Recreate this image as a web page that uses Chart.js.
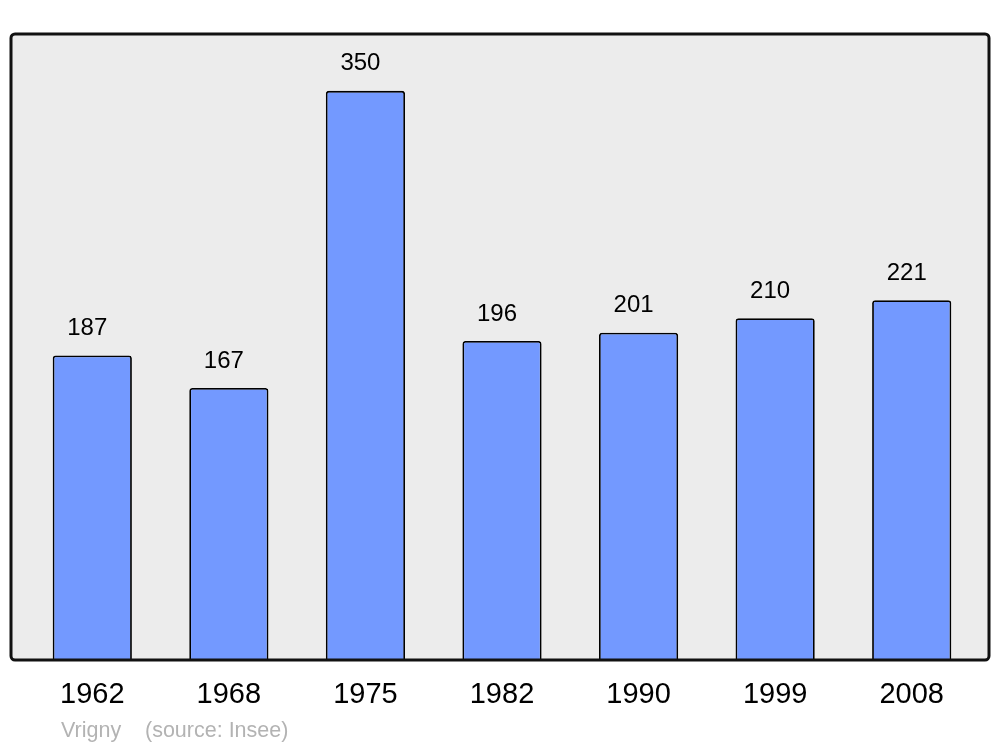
<!DOCTYPE html>
<html>
<head>
<meta charset="utf-8">
<title>Vrigny population</title>
<script src="https://cdn.jsdelivr.net/npm/chart.js@4/dist/chart.umd.min.js"></script>
<style>
    body { margin: 0; background: #ffffff; }
    canvas { display: block; }
</style>
</head>
<body>
<canvas id="popChart" width="1000" height="747"></canvas>
<script>
// Population of Vrigny by census year
const years = ['1962', '1968', '1975', '1982', '1990', '1999', '2008'];
const population = [187, 167, 350, 196, 201, 210, 221];
const footerName = 'Vrigny';
const footerSource = '(source: Insee)';

// Grey panel with dark rounded frame behind the bars
const framePlugin = {
    id: 'frame',
    beforeDatasetsDraw(chart) {
        const c = chart.ctx;
        c.save();
        c.beginPath();
        c.roundRect(11, 34, 978, 626, 4);
        c.fillStyle = '#ececec';
        c.fill();
        c.restore();
    },
    afterDatasetsDraw(chart) {
        const c = chart.ctx;
        c.save();
        c.beginPath();
        c.roundRect(11, 34, 978, 626, 4);
        c.lineWidth = 3;
        c.strokeStyle = '#111111';
        c.stroke();

        // value labels above each bar
        const meta = chart.getDatasetMeta(0);
        c.fillStyle = '#000000';
        c.font = '24px "Liberation Sans", Arial, sans-serif';
        c.textAlign = 'center';
        c.textBaseline = 'middle';
        meta.data.forEach((bar, i) => {
            c.fillText(String(population[i]), bar.x - 5, bar.y - 27);
        });

        // footer
        c.fillStyle = '#b3b3b3';
        c.font = '21.5px "Liberation Sans", Arial, sans-serif';
        c.textAlign = 'left';
        c.fillText(footerName, 61, 731);
        c.fillText(footerSource, 145, 731);
        c.restore();
    }
};

new Chart(document.getElementById('popChart'), {
    type: 'bar',
    data: {
        labels: years,
        datasets: [{
            data: population,
            backgroundColor: '#7399ff',
            borderColor: '#000000',
            borderWidth: 1.8,
            borderRadius: { topLeft: 3, topRight: 3 },
            borderSkipped: 'bottom',
            categoryPercentage: 1,
            barPercentage: 0.58
        }]
    },
    options: {
        responsive: false,
        animation: false,
        layout: {
            padding: { left: 24, right: 20, top: 34, bottom: 17 }
        },
        plugins: {
            legend: { display: false },
            tooltip: { enabled: false }
        },
        scales: {
            y: {
                display: false,
                min: 0,
                max: 385
            },
            x: {
                grid: { display: false, drawTicks: false },
                border: { display: false },
                ticks: {
                    color: '#000000',
                    padding: 18,
                    font: { size: 29, family: '"Liberation Sans", Arial, sans-serif' }
                }
            }
        }
    },
    plugins: [framePlugin]
});
</script>
</body>
</html>
